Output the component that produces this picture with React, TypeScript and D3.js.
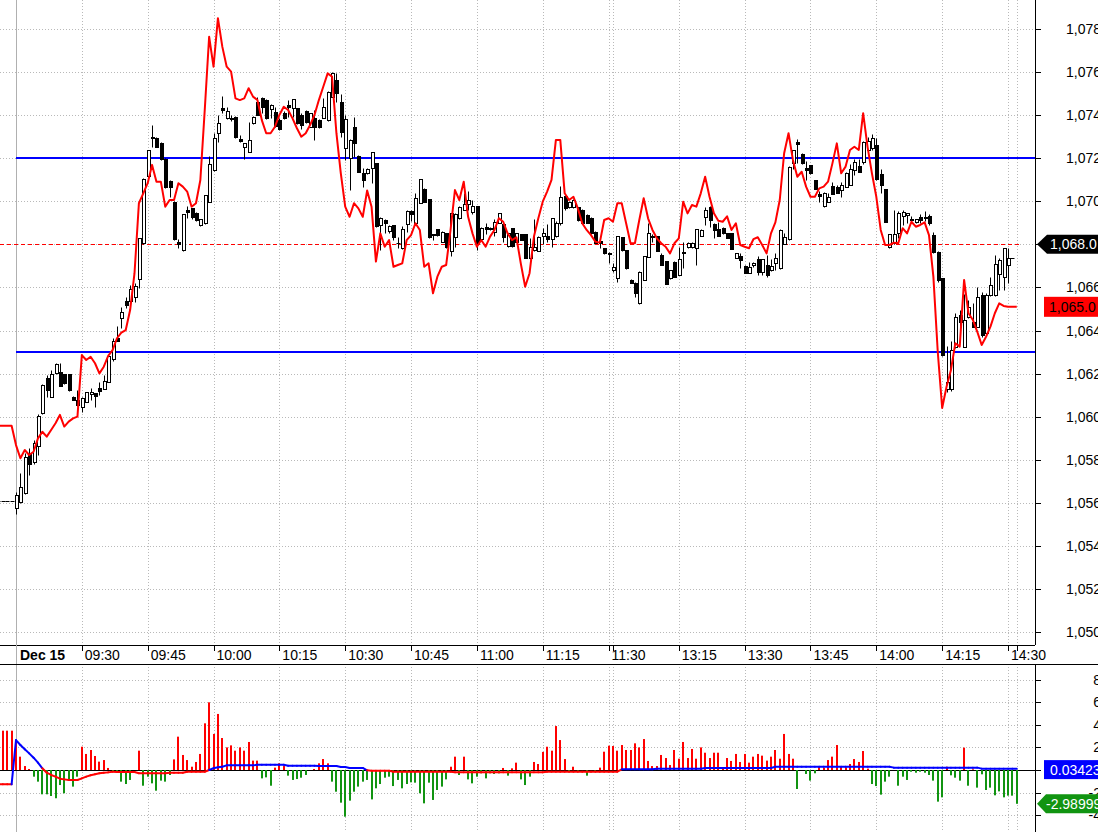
import * as d3 from "d3";

// bar index of the first entry in every series (bars before 0 belong to the previous session)
const FIRST_BAR = -4;

const openP = [
  1056.1, 1056.1, 1056.1, 1056.1,
  1055.76, 1056.05, 1056.47, 1058.25, 1057.91, 1058.65, 1060.16, 1061.78, 1060.93, 1062.01,
  1062.09, 1061.98, 1061.98, 1060.93, 1060.78, 1060.43, 1060.7, 1061.05, 1061.08, 1061.33,
  1061.27, 1061.62, 1062.66, 1063.64, 1064.57, 1065.37, 1065.37, 1065.57, 1066.38, 1068.08,
  1071.17, 1073.0, 1072.95, 1072.69, 1071.95, 1070.94, 1069.98, 1068.1, 1067.74, 1069.6,
  1069.67, 1069.44, 1068.9, 1068.98, 1069.98, 1071.45, 1073.18, 1074.32, 1073.85, 1073.86,
  1073.9, 1072.88, 1072.53, 1072.3, 1073.62, 1074.62, 1074.78, 1074.7, 1074.27, 1074.16,
  1073.77, 1074.1, 1074.47, 1074.32, 1074.32, 1074.01, 1074.19, 1073.46, 1073.87, 1073.77,
  1073.85, 1073.77, 1074.86, 1075.63, 1074.62, 1072.46, 1072.0, 1073.46, 1072.1, 1071.3,
  1071.3, 1071.53, 1071.76, 1068.9, 1069.13, 1068.62, 1068.9, 1068.08, 1067.82, 1068.93,
  1069.55, 1068.98, 1069.91, 1070.56, 1070.09, 1068.47, 1068.7, 1068.12, 1068.51, 1067.69,
  1068.33, 1069.21, 1069.6, 1069.87, 1069.5, 1069.78, 1068.24, 1068.82, 1068.75, 1068.59,
  1069.0, 1068.95, 1067.92, 1068.75, 1068.12, 1068.47, 1068.47, 1067.35, 1067.74, 1067.71,
  1068.39, 1068.39, 1068.25, 1068.4, 1069.0, 1070.25, 1069.75, 1069.72, 1069.72, 1069.6,
  1069.36, 1069.21, 1068.56, 1068.16, 1067.82, 1067.62, 1066.81, 1066.42, 1068.33, 1067.74,
  1066.35, 1066.22, 1065.26, 1066.35, 1067.43, 1068.4, 1068.39, 1067.5, 1067.24, 1066.42,
  1067.2, 1066.58, 1067.66, 1067.89, 1067.9, 1067.82, 1068.39, 1069.28, 1069.75, 1068.95,
  1068.7, 1068.75, 1068.51, 1068.51, 1067.38, 1067.47, 1067.01, 1066.69, 1067.04, 1067.3,
  1066.73, 1067.04, 1066.8, 1067.12, 1066.89, 1068.02, 1068.24, 1071.76, 1072.74, 1072.2,
  1071.53, 1071.68, 1070.99, 1070.34, 1069.78, 1069.98, 1070.71, 1070.68, 1070.52, 1070.68,
  1070.76, 1071.45, 1071.65, 1071.81, 1072.38, 1072.46, 1072.61, 1071.27, 1070.56, 1067.89,
  1068.05, 1068.51, 1069.31, 1069.36, 1069.2, 1069.05, 1069.28, 1069.28, 1069.32, 1068.43,
  1067.66, 1066.42, 1061.27, 1061.27, 1063.25, 1064.72, 1063.25, 1064.64, 1064.41, 1064.18,
  1065.65, 1063.87, 1065.65, 1065.65, 1066.61, 1066.5, 1067.04, 1067.35,
];

const highP = [
  1056.1, 1056.1, 1056.1, 1056.1,
  1056.5, 1057.4, 1058.3, 1058.53, 1058.9, 1060.1, 1061.5, 1061.93, 1062.17, 1062.5,
  1062.48, 1062.0, 1062.0, 1060.95, 1061.24, 1060.9, 1061.15, 1061.32, 1061.1, 1061.6,
  1061.93, 1062.9, 1063.64, 1064.2, 1065.11, 1065.57, 1066.11, 1066.22, 1068.3, 1071.1,
  1072.4, 1073.54, 1073.0, 1072.75, 1072.0, 1071.0, 1070.0, 1068.24, 1069.4, 1069.79,
  1069.7, 1069.5, 1069.2, 1070.3, 1072.1, 1073.16, 1074.01, 1074.9, 1074.4, 1074.0,
  1073.95, 1073.1, 1072.7, 1073.7, 1073.95, 1074.86, 1074.86, 1074.75, 1074.5, 1074.4,
  1073.85, 1074.2, 1074.7, 1074.75, 1074.35, 1074.1, 1074.25, 1074.1, 1074.24, 1073.8,
  1074.78, 1075.1, 1076.0, 1075.97, 1075.0, 1074.0, 1072.9, 1073.93, 1072.15, 1071.53,
  1071.55, 1072.3, 1071.8, 1069.25, 1069.2, 1068.9, 1068.92, 1068.36, 1068.85, 1069.6,
  1069.6, 1070.37, 1071.05, 1070.6, 1070.1, 1068.5, 1068.72, 1068.6, 1068.55, 1069.45,
  1069.45, 1069.78, 1070.37, 1070.5, 1070.06, 1069.8, 1068.8, 1069.0, 1068.8, 1069.2,
  1069.45, 1069.0, 1068.52, 1068.78, 1068.52, 1068.5, 1068.5, 1068.3, 1069.2, 1068.38,
  1068.75, 1068.95, 1069.22, 1069.1, 1070.7, 1070.3, 1070.0, 1070.1, 1069.75, 1069.62,
  1069.4, 1069.25, 1068.6, 1068.2, 1067.85, 1067.65, 1067.12, 1068.4, 1068.35, 1067.76,
  1066.38, 1066.24, 1066.75, 1067.47, 1069.0, 1068.5, 1068.4, 1067.6, 1067.25, 1066.82,
  1067.22, 1067.9, 1068.1, 1068.1, 1068.1, 1068.72, 1068.7, 1069.75, 1069.77, 1068.97,
  1069.05, 1068.8, 1068.55, 1068.52, 1067.6, 1067.6, 1067.03, 1067.16, 1067.2, 1067.45,
  1067.32, 1067.5, 1067.3, 1067.6, 1068.7, 1068.55, 1071.62, 1072.4, 1072.88, 1072.22,
  1071.85, 1071.7, 1071.0, 1070.46, 1070.42, 1070.4, 1070.9, 1070.76, 1070.9, 1071.34,
  1071.75, 1071.95, 1071.95, 1072.78, 1073.0, 1073.13, 1072.93, 1071.5, 1070.58, 1068.5,
  1069.6, 1069.55, 1069.6, 1069.45, 1069.3, 1069.2, 1069.4, 1069.55, 1069.4, 1068.59,
  1067.68, 1066.44, 1063.3, 1063.5, 1064.8, 1064.95, 1065.7, 1065.4, 1065.3, 1066.0,
  1065.8, 1065.75, 1066.5, 1067.5, 1067.35, 1067.82, 1067.82, 1067.35,
];

const lowP = [
  1056.1, 1056.1, 1056.1, 1056.1,
  1055.5, 1056.0, 1056.4, 1057.29, 1057.8, 1058.22, 1060.1, 1060.9, 1060.9, 1062.0,
  1061.4, 1061.5, 1061.2, 1060.75, 1060.5, 1060.23, 1060.7, 1060.78, 1060.43, 1061.0,
  1061.27, 1061.6, 1062.6, 1063.5, 1064.12, 1065.03, 1065.3, 1065.34, 1065.96, 1068.0,
  1071.1, 1072.53, 1072.5, 1071.9, 1070.6, 1070.2, 1068.2, 1067.82, 1067.7, 1069.21,
  1069.2, 1069.1, 1068.85, 1068.95, 1069.98, 1071.4, 1072.77, 1074.1, 1073.8, 1073.75,
  1072.95, 1072.75, 1071.95, 1072.3, 1073.6, 1074.0, 1074.1, 1073.8, 1073.85, 1073.45,
  1073.3, 1073.8, 1073.9, 1073.9, 1073.6, 1073.35, 1073.65, 1073.45, 1072.85, 1073.4,
  1073.85, 1073.75, 1074.85, 1074.62, 1073.0, 1071.92, 1070.52, 1072.07, 1071.35, 1070.68,
  1071.25, 1070.84, 1068.8, 1067.74, 1068.55, 1068.55, 1068.2, 1067.82, 1067.8, 1068.59,
  1069.1, 1068.95, 1069.9, 1069.95, 1068.3, 1068.2, 1068.4, 1068.1, 1067.85, 1067.46,
  1067.89, 1069.2, 1069.58, 1069.6, 1069.4, 1067.74, 1068.2, 1068.5, 1068.65, 1068.4,
  1069.0, 1068.12, 1067.9, 1067.9, 1068.1, 1068.18, 1067.35, 1067.33, 1067.7, 1067.7,
  1068.0, 1068.1, 1067.9, 1068.35, 1068.9, 1069.6, 1069.7, 1069.7, 1069.1, 1068.98,
  1068.98, 1068.5, 1068.05, 1067.82, 1067.55, 1067.12, 1066.7, 1066.27, 1067.7, 1066.85,
  1066.2, 1065.57, 1065.24, 1066.33, 1067.4, 1068.1, 1067.7, 1067.04, 1066.16, 1066.4,
  1066.5, 1066.56, 1066.9, 1067.85, 1067.85, 1067.04, 1068.38, 1068.9, 1068.8, 1068.3,
  1068.38, 1068.5, 1068.28, 1067.77, 1067.36, 1066.9, 1066.66, 1066.66, 1066.95, 1066.6,
  1066.6, 1066.5, 1066.78, 1066.8, 1066.85, 1068.0, 1068.2, 1071.5, 1071.76, 1071.75,
  1071.0, 1071.25, 1070.55, 1069.98, 1069.75, 1069.97, 1070.33, 1070.38, 1070.2, 1070.65,
  1070.75, 1071.2, 1071.35, 1071.75, 1072.37, 1072.4, 1071.0, 1070.4, 1069.04, 1067.85,
  1068.0, 1068.3, 1068.9, 1069.0, 1069.0, 1069.0, 1069.0, 1069.1, 1068.9, 1067.58,
  1066.27, 1062.8, 1061.16, 1061.2, 1063.2, 1064.0, 1063.22, 1064.6, 1064.15, 1064.15,
  1063.7, 1063.78, 1065.6, 1065.6, 1065.88, 1065.88, 1066.2, 1067.35,
];

const closeP = [
  1056.1, 1056.1, 1056.1, 1056.1,
  1056.36, 1056.72, 1058.14, 1057.79, 1058.79, 1060.04, 1061.47, 1061.24, 1061.98, 1062.44,
  1061.44, 1061.58, 1061.24, 1060.78, 1060.54, 1060.85, 1061.13, 1061.13, 1060.96, 1061.2,
  1061.66, 1062.82, 1063.53, 1063.53, 1064.84, 1065.18, 1065.91, 1066.07, 1068.28, 1071.02,
  1072.38, 1072.94, 1072.53, 1071.95, 1070.68, 1070.65, 1068.24, 1068.0, 1069.4, 1069.52,
  1069.28, 1069.13, 1069.18, 1070.29, 1071.72, 1072.92, 1073.65, 1074.26, 1074.19, 1073.82,
  1072.97, 1072.82, 1072.69, 1072.85, 1073.93, 1074.01, 1074.39, 1073.85, 1074.47, 1073.5,
  1073.34, 1073.85, 1074.4, 1074.74, 1073.62, 1073.54, 1073.7, 1074.09, 1073.45, 1073.46,
  1074.39, 1075.06, 1075.97, 1075.01, 1073.23, 1073.82, 1072.85, 1072.72, 1071.37, 1070.99,
  1071.49, 1072.27, 1068.87, 1069.21, 1069.0, 1068.85, 1068.36, 1068.06, 1068.7, 1069.55,
  1069.4, 1070.14, 1071.02, 1069.98, 1068.36, 1068.42, 1068.44, 1068.59, 1067.89, 1069.44,
  1069.41, 1069.75, 1069.87, 1070.06, 1069.78, 1068.08, 1068.75, 1068.7, 1068.7, 1069.05,
  1069.44, 1068.36, 1068.51, 1067.92, 1068.51, 1068.2, 1067.35, 1067.89, 1067.89, 1068.36,
  1068.51, 1068.24, 1069.21, 1069.0, 1070.2, 1069.67, 1069.95, 1070.06, 1069.13, 1069.0,
  1069.0, 1068.51, 1068.08, 1068.05, 1067.59, 1067.53, 1066.96, 1068.39, 1067.74, 1066.89,
  1066.22, 1065.76, 1066.73, 1067.46, 1068.51, 1068.33, 1067.71, 1067.04, 1066.16, 1066.81,
  1066.5, 1067.3, 1067.59, 1068.08, 1068.05, 1068.7, 1068.67, 1069.6, 1069.13, 1068.67,
  1068.39, 1068.51, 1068.28, 1067.77, 1067.58, 1067.27, 1066.69, 1066.96, 1067.15, 1066.73,
  1067.3, 1066.58, 1067.0, 1067.35, 1068.67, 1068.33, 1071.6, 1072.38, 1072.66, 1071.79,
  1071.45, 1071.3, 1070.56, 1070.25, 1070.4, 1070.21, 1070.34, 1070.4, 1070.76, 1071.33,
  1071.49, 1071.84, 1071.35, 1072.77, 1072.82, 1072.92, 1071.02, 1070.76, 1069.05, 1068.49,
  1068.49, 1069.44, 1069.49, 1069.44, 1069.13, 1069.16, 1069.13, 1069.21, 1069.0, 1067.66,
  1066.35, 1062.86, 1061.62, 1063.09, 1064.64, 1064.41, 1064.49, 1065.1, 1064.18, 1065.57,
  1063.79, 1065.65, 1066.11, 1067.07, 1067.27, 1067.82, 1067.35, 1067.35,
];

// red overlay line on the price panel
const forecastLine = [
  1059.58, 1059.58, 1059.58, 1059.58,
  1058.68, 1058.07, 1058.45, 1058.22, 1058.37, 1058.99, 1059.3, 1059.07, 1059.38, 1059.69,
  1060.08, 1059.54, 1059.77, 1059.92, 1060.0, 1062.86, 1062.63, 1062.78, 1062.48, 1062.01,
  1062.32, 1062.82, 1063.09, 1063.64, 1063.9, 1064.02, 1064.95, 1066.66, 1069.91, 1070.37,
  1070.84, 1071.69, 1070.91, 1070.91, 1069.75, 1070.06, 1070.06, 1070.84, 1070.68, 1070.45,
  1069.75, 1069.91, 1070.99, 1074.24, 1077.64, 1076.25, 1078.5, 1077.18, 1076.25, 1076.02,
  1074.78, 1074.7, 1074.78, 1075.25, 1074.86, 1074.7, 1073.77, 1073.16, 1073.16, 1073.46,
  1074.01, 1074.39, 1074.24, 1073.85, 1073.39, 1073.0, 1073.16, 1073.54, 1074.01, 1074.7,
  1075.32, 1075.94, 1075.79, 1073.16, 1071.3, 1069.75, 1069.28, 1069.91, 1069.67, 1069.28,
  1070.5, 1069.75, 1067.2, 1068.51, 1067.89, 1068.2, 1066.96, 1067.04, 1067.12, 1068.2,
  1068.43, 1068.98, 1068.67, 1066.96, 1067.12, 1065.73, 1066.5, 1066.96, 1067.04, 1068.67,
  1070.52, 1070.06, 1070.91, 1069.28, 1068.51, 1067.89, 1068.2, 1067.89, 1068.36, 1068.67,
  1069.21, 1069.05, 1068.51, 1068.2, 1068.33, 1067.12, 1066.03, 1066.66, 1068.36, 1069.21,
  1069.98, 1070.45, 1070.99, 1072.85, 1072.85, 1070.37, 1070.06, 1070.21, 1069.67, 1068.98,
  1068.67, 1068.43, 1068.12, 1068.08, 1069.13, 1069.21, 1069.05, 1069.91, 1069.91, 1068.98,
  1068.05, 1068.05, 1069.13, 1070.14, 1069.21, 1068.67, 1068.28, 1068.05, 1067.89, 1067.58,
  1068.05, 1068.28, 1069.98, 1069.44, 1069.83, 1069.75, 1070.37, 1071.14, 1070.21, 1069.44,
  1069.1, 1069.05, 1069.3, 1068.67, 1068.98, 1067.97, 1067.89, 1067.82, 1068.24, 1068.33,
  1067.97, 1067.58, 1068.51, 1069.02, 1070.06, 1072.23, 1073.16, 1071.92, 1071.14, 1071.37,
  1070.68, 1070.21, 1070.21, 1070.6, 1070.68, 1070.91, 1071.76, 1072.69, 1071.3, 1071.61,
  1072.38, 1072.53, 1072.38, 1074.09, 1072.53, 1071.3, 1070.21, 1068.67, 1067.97, 1067.97,
  1068.08, 1068.05, 1068.75, 1068.51, 1069.05, 1068.82, 1068.9, 1069.02, 1068.43, 1066.5,
  1063.0, 1060.4, 1061.39, 1062.17, 1063.41, 1063.25, 1066.35, 1064.8, 1064.49, 1063.94,
  1063.33, 1063.71, 1064.18, 1064.8, 1065.26, 1065.14, 1065.1, 1065.1, 1065.1,
];

// oscillator histogram (lower panel)
const histValues = [
  3.48, 3.48, 3.48, 3.48,
  2.65, 1.18, 0.35, 0.09, -0.59, -1.03, -2.15, -2.15, -2.3, -2.5,
  -1.33, -2.06, -0.83, -1.47, -0.59, 2.06, 1.42, 1.77, 1.24, 0.74,
  0.88, 0.18, -0.15, -0.24, -1.03, -1.24, -0.88, 0, 1.71, -1.39,
  -0.59, -1.18, -1.83, -0.94, -1.03, -0.44, 0.94, 2.95, 1.33, 0.88,
  0.29, 0.71, 1.42, 4.13, 5.99, 3.19, 4.96, 2.83, 2.0, 2.18,
  1.71, 2.0, 1.71, 2.48, 0.83, 0.83, -0.74, -0.65, -1.39, 0.21,
  0.59, 0.35, -0.5, -0.88, -0.8, -0.68, -0.44, 0, 0.09, 0.59,
  0.97, 0.59, -1.03, -1.92, -2.89, -4.13, -2.71, -1.92, -1.47, -1.03,
  -0.88, -2.6, -1.62, -1.24, -0.68, -0.59, -1.42, -0.88, -1.62, -1.24,
  -1.09, -1.12, -2.06, -2.95, -1.12, -2.65, -1.77, -1.47, -0.83, 0.29,
  1.18, -0.44, 1.18, -0.83, -1.18, -0.59, -0.29, -0.74, -0.29, -0.35,
  -0.29, 0.18, -0.5, 0.15, 0.65, -0.83, -1.33, -0.59, 0.71, 0.53,
  1.6, 2.06, 1.71, 3.89, 2.65, 0.97, -0.15, 0.29, -0.06, 0,
  -0.5, 0, -0.06, 0.21, 1.62, 2.15, 2.12, 1.71, 2.21, 1.77,
  1.77, 2.36, 2.0, 2.74, 0.8, 0.35, 0.35, 1.33, 1.06, 0.44,
  1.77, 1.0, 2.48, 1.06, 1.86, 1.0, 2.0, 1.53, 1.06, 1.53,
  1.53, 0.15, 1.06, 0.8, 1.42, 0.71, 1.42, 0.65, 1.18, 1.42,
  1.27, 0.83, 1.18, 1.77, 1.0, 3.19, 1.42, 1.0, -1.68, 0,
  -0.35, -0.94, -0.29, 0.29, 0.18, 0.88, 1.18, 2.21, 0.29, 0.24,
  0.53, 0.97, 0.71, 1.68, 0.12, -1.24, -1.42, -2.18, -1.03, -0.59,
  0, -1.39, -0.59, -0.88, -0.15, -0.24, -0.15, -0.24, -0.44, -0.94,
  -2.8, -2.42, 0.29, -0.47, -0.68, -0.94, 1.98, -1.39, 0.06, -1.56,
  -0.38, -1.77, -1.56, -2.24, -1.89, -2.42, -2.27, -2.27, -2.99,
];

// oscillator average line (blue above zero, red below)
const signalValues = [
  -1.27, -1.27, -1.27, -1.27,
  2.65, 2.21, 1.83, 1.47, 1.09, 0.65, 0.15, -0.24, -0.44, -0.59,
  -0.77, -0.83, -0.88, -0.88, -0.88, -0.74, -0.59, -0.47, -0.38, -0.29,
  -0.24, -0.21, -0.15, -0.18, -0.18, -0.18, -0.18, -0.18, -0.29, -0.29,
  -0.29, -0.29, -0.29, -0.29, -0.29, -0.24, -0.24, -0.24, -0.24, -0.15,
  -0.15, -0.15, -0.15, -0.15, 0, 0.15, 0.24, 0.29, 0.41, 0.41,
  0.41, 0.41, 0.41, 0.41, 0.41, 0.47, 0.47, 0.47, 0.47, 0.47,
  0.47, 0.47, 0.38, 0.38, 0.38, 0.38, 0.38, 0.38, 0.38, 0.35,
  0.35, 0.35, 0.35, 0.35, 0.27, 0.27, 0.18, 0.18, 0.18, 0.18,
  -0.03, -0.06, -0.06, -0.06, -0.06, -0.06, -0.15, -0.15, -0.15, -0.15,
  -0.15, -0.15, -0.15, -0.15, -0.15, -0.15, -0.15, -0.15, -0.15, -0.15,
  -0.2, -0.2, -0.2, -0.2, -0.2, -0.2, -0.2, -0.2, -0.2, -0.2,
  -0.2, -0.2, -0.2, -0.2, -0.2, -0.2, -0.2, -0.2, -0.2, -0.2,
  -0.2, -0.15, -0.15, -0.15, -0.15, -0.15, -0.15, -0.15, -0.15, -0.15,
  -0.15, -0.15, -0.15, -0.15, -0.15, -0.15, -0.15, -0.15, 0.06, 0.06,
  0.06, 0.06, 0.06, 0.06, 0.06, 0.06, 0.12, 0.12, 0.12, 0.12,
  0.12, 0.12, 0.12, 0.12, 0.12, 0.12, 0.12, 0.18, 0.18, 0.18,
  0.18, 0.18, 0.18, 0.18, 0.18, 0.18, 0.18, 0.18, 0.18, 0.18,
  0.18, 0.18, 0.18, 0.29, 0.29, 0.29, 0.29, 0.29, 0.29, 0.29,
  0.29, 0.29, 0.29, 0.29, 0.29, 0.29, 0.29, 0.29, 0.29, 0.29,
  0.29, 0.29, 0.29, 0.29, 0.29, 0.29, 0.29, 0.29, 0.29, 0.29,
  0.21, 0.21, 0.21, 0.21, 0.21, 0.21, 0.21, 0.21, 0.21, 0.21,
  0.21, 0.21, 0.21, 0.21, 0.21, 0.21, 0.21, 0.21, 0.21, 0.21,
  0.12, 0.12, 0.12, 0.12, 0.12, 0.12, 0.12, 0.12, 0.12,
];

const priceTicks = [1050, 1052, 1054, 1056, 1058, 1060, 1062, 1064, 1066, 1068, 1070, 1072, 1074, 1076, 1078];
const oscTicks = [-4, -2, 0, 2, 4, 6, 8];
const gridBars = [15, 30, 45, 60, 75, 90, 105, 120, 135, 136, 151, 166, 181, 196, 211, 226, 228];
const timeLabelBars = [15, 30, 45, 60, 75, 90, 105, 120, 135, 151, 166, 181, 196, 211, 226];
const timeLabels = ["09:30", "09:45", "10:00", "10:15", "10:30", "10:45", "11:00", "11:15", "11:30", "13:15", "13:30", "13:45", "14:00", "14:15", "14:30"];
const dayLabel = "Dec 15";
const levelLines = [1072, 1063];
const refLevel = 1068.0;
const lastForecast = 1065.0;
const signalLast = 0.03423;
const histLast = -2.98999;

const W = 1098;
const H = 832;
const PLOT_R = 1035;
const MAIN_BOTTOM = 645;
const SUB_TOP = 664;
const FONT = "Arial, 'Liberation Sans', sans-serif";
const GREEN = "#119411";

const x = d3.scaleLinear().domain([0, 226]).range([16, 1008]);
const yMain = d3.scaleLinear().domain([1050, 1078]).range([632, 29]);
const ySub = d3.scaleLinear().domain([0, 8]).range([770, 679.6]);

const snap = (v: number) => Math.round(v) + 0.5;
const barX = (k: number) => x(FIRST_BAR + k);

export default function App() {
  const priceFmt = d3.format(",");

  const forecastPath = d3
    .line<number>()
    .x((_, k) => barX(k))
    .y((d) => yMain(d))(forecastLine);

  const candles = closeP.map((c, k) => {
    const cx = snap(barX(k));
    const o = openP[k];
    const yo = yMain(o);
    const yc = yMain(c);
    const top = Math.round(Math.min(yo, yc)) + 0.5;
    const bot = Math.round(Math.max(yo, yc)) + 0.5;
    const yh = Math.round(yMain(highP[k])) + 0.5;
    const yl = Math.round(yMain(lowP[k])) + 0.5;
    const up = c >= o;
    return (
      <g key={k}>
        {yl - yh > 0 && <line x1={cx} x2={cx} y1={yh} y2={yl} stroke="#000" strokeWidth={1} />}
        {bot - top < 1 ? (
          <line x1={cx - 2} x2={cx + 2} y1={top} y2={top} stroke="#000" strokeWidth={1} />
        ) : (
          <rect x={cx - 1} y={top} width={3} height={bot - top} fill={up ? "#fff" : "#000"} stroke="#000" strokeWidth={1} />
        )}
      </g>
    );
  });

  const histBars = histValues.map((v, k) => {
    if (v === 0) return null;
    const cx = Math.round(barX(k));
    const y0 = ySub(0);
    const y1 = ySub(v);
    return (
      <rect
        key={k}
        x={cx - 1}
        y={Math.min(y0, y1)}
        width={2}
        height={Math.abs(y1 - y0)}
        fill={v > 0 ? "#ff0000" : GREEN}
      />
    );
  });

  const signalSegs = signalValues.slice(1).map((b, k) => {
    const a = signalValues[k];
    const col = (a + b) / 2 >= 0 ? "#0000ff" : "#ff0000";
    return (
      <line
        key={k}
        x1={barX(k)}
        y1={ySub(a)}
        x2={barX(k + 1)}
        y2={ySub(b)}
        stroke={col}
        strokeWidth={2}
        strokeLinecap="round"
      />
    );
  });

  const gridColor = "#b9b9b9";
  const yRef = yMain(refLevel);
  const yLast = yMain(lastForecast + 0.1);
  const ySig = ySub(signalLast);
  const yHist = ySub(histLast);

  return (
    <div style={{ position: "absolute", left: 0, top: 0, width: W, height: H, background: "#fff", overflow: "hidden" }}>
      <svg width={W} height={H} style={{ display: "block", fontFamily: FONT }}>
        <rect x={0} y={0} width={W} height={H} fill="#fff" />

        {/* horizontal grid, price panel */}
        {priceTicks.map((t) => (
          <line key={t} x1={0} x2={PLOT_R} y1={snap(yMain(t))} y2={snap(yMain(t))} stroke={gridColor} strokeDasharray="1,2" />
        ))}
        {/* horizontal grid, oscillator panel */}
        {oscTicks.filter((t) => t !== 0).map((t) => (
          <line key={t} x1={0} x2={PLOT_R} y1={snap(ySub(t))} y2={snap(ySub(t))} stroke={gridColor} strokeDasharray="1,2" />
        ))}
        {/* vertical grid */}
        {gridBars.map((b) => (
          <g key={b}>
            <line x1={snap(x(b))} x2={snap(x(b))} y1={0} y2={MAIN_BOTTOM} stroke={gridColor} strokeDasharray="1,2" />
            <line x1={snap(x(b))} x2={snap(x(b))} y1={SUB_TOP} y2={H} stroke={gridColor} strokeDasharray="1,2" />
          </g>
        ))}
        <line x1={snap(x(0))} x2={snap(x(0))} y1={0} y2={H} stroke="#b0b0b0" />

        {/* reference dashed level */}
        <line x1={0} x2={1020} y1={snap(yRef)} y2={snap(yRef)} stroke="#ff0000" strokeDasharray="4,3" />

        {/* support / resistance */}
        {levelLines.map((l) => (
          <line key={l} x1={x(0)} x2={PLOT_R} y1={Math.round(yMain(l))} y2={Math.round(yMain(l))} stroke="#0000ff" strokeWidth={2} />
        ))}

        {/* candles */}
        {candles}

        {/* forecast line */}
        <path d={forecastPath ?? ""} fill="none" stroke="#ff0000" strokeWidth={2} strokeLinejoin="round" />

        {/* oscillator */}
        <line x1={0} x2={PLOT_R} y1={snap(ySub(0))} y2={snap(ySub(0))} stroke="#000" />
        {histBars}
        {signalSegs}

        {/* time axis band */}
        <rect x={0} y={MAIN_BOTTOM} width={PLOT_R} height={SUB_TOP - MAIN_BOTTOM} fill="#fff" />
        <line x1={0} x2={PLOT_R} y1={MAIN_BOTTOM + 0.5} y2={MAIN_BOTTOM + 0.5} stroke="#000" />
        <line x1={0} x2={W} y1={SUB_TOP + 0.5} y2={SUB_TOP + 0.5} stroke="#000" />
        <line x1={snap(x(0))} x2={snap(x(0))} y1={MAIN_BOTTOM} y2={SUB_TOP} stroke="#b0b0b0" />
        {gridBars.map((b) => (
          <line key={b} x1={snap(x(b))} x2={snap(x(b))} y1={MAIN_BOTTOM} y2={MAIN_BOTTOM + 6} stroke="#000" />
        ))}
        <text x={x(0) + 4} y={660} fontSize={14} fontWeight="bold" fill="#000">{dayLabel}</text>
        {timeLabelBars.map((b, k) => (
          <text key={b} x={x(b) + 3} y={660} fontSize={14} fill="#000">{timeLabels[k]}</text>
        ))}

        {/* right axis */}
        <line x1={PLOT_R + 0.5} x2={PLOT_R + 0.5} y1={0} y2={MAIN_BOTTOM} stroke="#000" />
        <line x1={PLOT_R + 0.5} x2={PLOT_R + 0.5} y1={SUB_TOP} y2={H} stroke="#000" />
        {priceTicks.map((t) => (
          <g key={t}>
            <line x1={PLOT_R} x2={PLOT_R + 6} y1={snap(yMain(t))} y2={snap(yMain(t))} stroke="#000" />
            <text x={1101} y={yMain(t) + 5} fontSize={14} textAnchor="end" fill="#000">{priceFmt(t)}</text>
          </g>
        ))}
        {oscTicks.map((t) => (
          <g key={t}>
            <line x1={PLOT_R} x2={PLOT_R + 6} y1={snap(ySub(t))} y2={snap(ySub(t))} stroke="#000" />
            <text x={1101} y={ySub(t) + 5} fontSize={14} textAnchor="end" fill="#000">{t}</text>
          </g>
        ))}

        {/* value badges */}
        <polygon
          points={`1037,${yRef} 1047,${yRef - 9.5} ${W},${yRef - 9.5} ${W},${yRef + 9.5} 1047,${yRef + 9.5}`}
          fill="#000"
        />
        <text x={1050} y={yRef + 5} fontSize={14} fill="#fff">{d3.format(",.1f")(refLevel)}</text>

        <rect x={1044} y={yLast - 10} width={W - 1044} height={20} fill="#ff0000" />
        <text x={1049} y={yLast + 5} fontSize={14} fill="#000">{d3.format(",.1f")(lastForecast)}</text>

        <rect x={1044} y={ySig - 9.5} width={W - 1044} height={19} fill="#0000ff" />
        <text x={1050} y={ySig + 5} fontSize={14} fill="#fff">{signalLast.toFixed(5)}</text>

        <polygon
          points={`1037,${yHist} 1046,${yHist - 9.5} ${W},${yHist - 9.5} ${W},${yHist + 9.5} 1046,${yHist + 9.5}`}
          fill={GREEN}
        />
        <text x={1046} y={yHist + 5} fontSize={14} fill="#fff">{histLast.toFixed(5)}</text>
      </svg>
    </div>
  );
}
